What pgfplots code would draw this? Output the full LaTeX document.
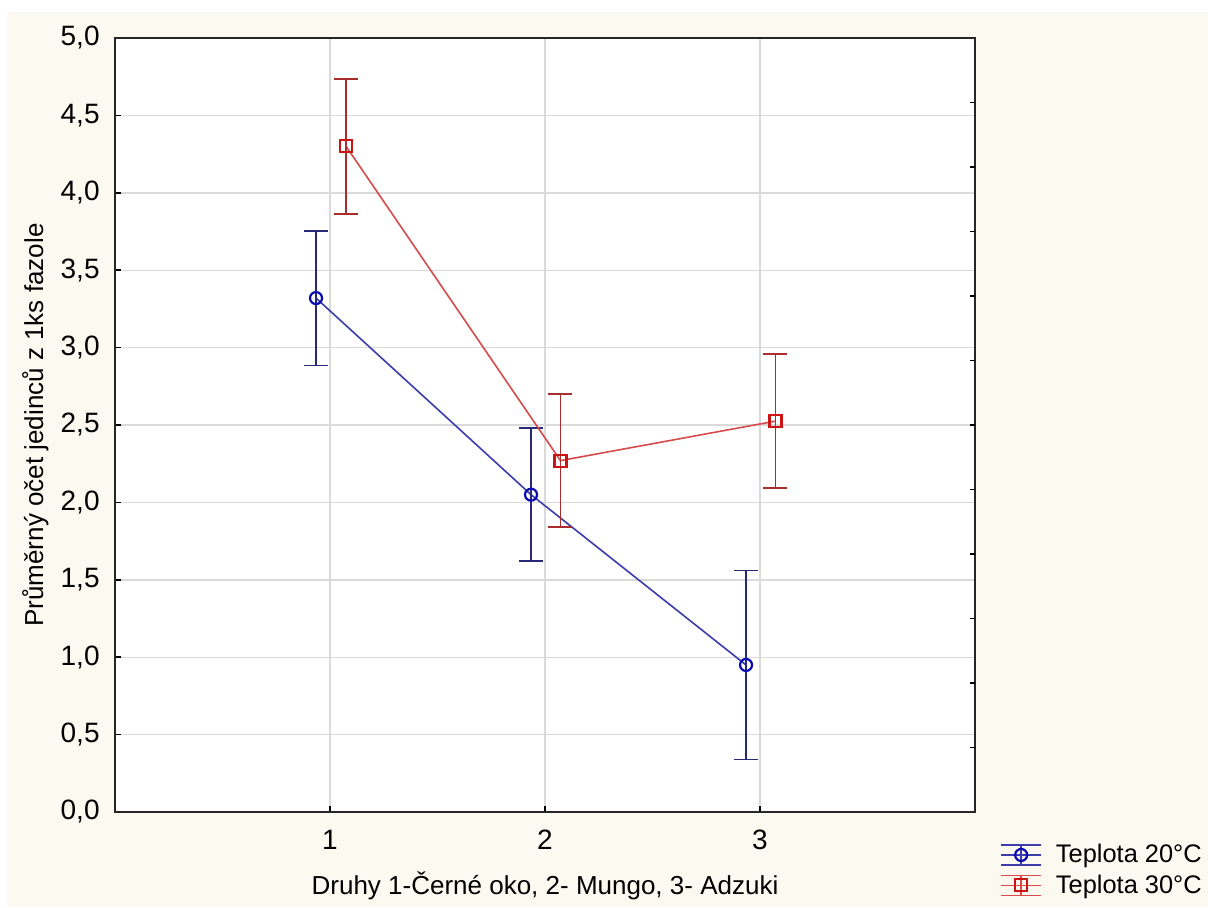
\documentclass[border=0pt]{standalone}
\usepackage{fontspec}
\setmainfont{Liberation Sans}
\usepackage{pgfplots}
\pgfplotsset{compat=1.18}
\definecolor{cream}{RGB}{252,249,240}
\definecolor{lineblue}{RGB}{60,60,170}
\definecolor{markblue}{RGB}{10,10,180}
\definecolor{errblue}{RGB}{40,40,120}
\definecolor{linered}{RGB}{215,75,75}
\definecolor{markred}{RGB}{205,20,20}
\definecolor{errred}{RGB}{170,45,45}
\definecolor{gridgray}{RGB}{218,218,218}
\begin{document}
\begin{tikzpicture}
\useasboundingbox (-57.5pt,-47.5pt) rectangle (546.5pt,406pt);
\fill[white] (-57.5pt,-47.5pt) rectangle (546.5pt,406pt);
\fill[cream] (-54pt,-47.5pt) rectangle (546.5pt,400pt);
\begin{axis}[
  scale only axis, width=430pt, height=387pt,
  xmin=0, xmax=4, ymin=0, ymax=5,
  xtick={1,2,3}, xticklabels={1,2,3},
  ytick={0,0.5,...,5},
  xtick pos=bottom, ytick pos=left,
  tick align=inside, major tick length=3pt,
  tick style={black, line width=0.8pt},
  axis line style={black!85, line width=1pt},
  axis background/.style={fill=white},
  grid=major, major grid style={gridgray, line width=0.7pt},
  /pgf/number format/.cd, use comma, fixed, fixed zerofill, precision=1, assume math mode=true,
  /pgfplots/.cd,
  ticklabel style={font=\fontsize{14}{16}\selectfont},
  yticklabel style={inner sep=0pt, xshift=-7.5pt},
  xticklabel style={inner sep=0pt, yshift=-9pt},
  xlabel={Druhy 1-Černé oko, 2- Mungo, 3- Adzuki},
  ylabel={Průměrný očet jedinců z 1ks fazole},
  label style={font=\fontsize{13}{15}\selectfont},
  xlabel style={at={(axis description cs:0.5,-0.1072)}, anchor=base},
  ylabel style={at={(axis description cs:-0.0837,0.5)}, anchor=base},
  legend style={at={(axis description cs:1.029,-0.036)}, anchor=north west,
    draw=none, fill=none, inner sep=0pt, row sep=0.5pt,
    font=\fontsize{12.7}{15}\selectfont,
    /tikz/every odd column/.append style={column sep=5pt}},
  legend cell align=left,
  legend image code/.code={%
    \draw[#1,mark=none] (0pt,0pt)--(20pt,0pt);
    \draw[#1,mark=none,line width=0.6pt] (0pt,5pt)--(20pt,5pt);
    \draw[#1,mark=none,line width=0.6pt] (0pt,-5pt)--(20pt,-5pt);
    \draw[#1,mark=none] (10pt,-5pt)--(10pt,5pt);
    \draw[#1] plot coordinates {(10pt,0pt)};
  },
]
\addplot[lineblue, line width=0.8pt, mark=o, mark size=3pt,
  mark options={markblue, line width=1.1pt},
  error bars/.cd, y dir=both, y explicit,
  error bar style={errblue, line width=0.8pt},
  error mark options={rotate=90, mark size=6pt, errblue, line width=0.8pt}]
  coordinates {
  (0.935,3.32) +- (0,0.435)
  (1.935,2.05) +- (0,0.43)
  (2.935,0.95) +- (0,0.61)
  };
\addlegendentry{Teplota 20°C}
\addplot[linered, line width=0.8pt, mark=square, mark size=3pt,
  mark options={markred, line width=1.1pt},
  error bars/.cd, y dir=both, y explicit,
  error bar style={errred, line width=0.8pt},
  error mark options={rotate=90, mark size=6pt, errred, line width=0.8pt}]
  coordinates {
  (1.075,4.30) +- (0,0.436)
  (2.072,2.27) +- (0,0.43)
  (3.072,2.525) +- (0,0.433)
  };
\addlegendentry{Teplota 30°C}
\end{axis}
\begin{axis}[
  scale only axis, width=430pt, height=387pt,
  xmin=0, xmax=4, ymin=0, ymax=5,
  hide x axis, axis line style={draw=none},
  ytick pos=right, tick align=inside, major tick length=2.5pt,
  tick style={black, line width=0.8pt},
  ytick={0.41667,0.83333,1.25,1.66667,2.08333,2.5,2.91667,3.33333,3.75,4.16667,4.58333},
  yticklabels={},
]
\end{axis}
\end{tikzpicture}
\end{document}
